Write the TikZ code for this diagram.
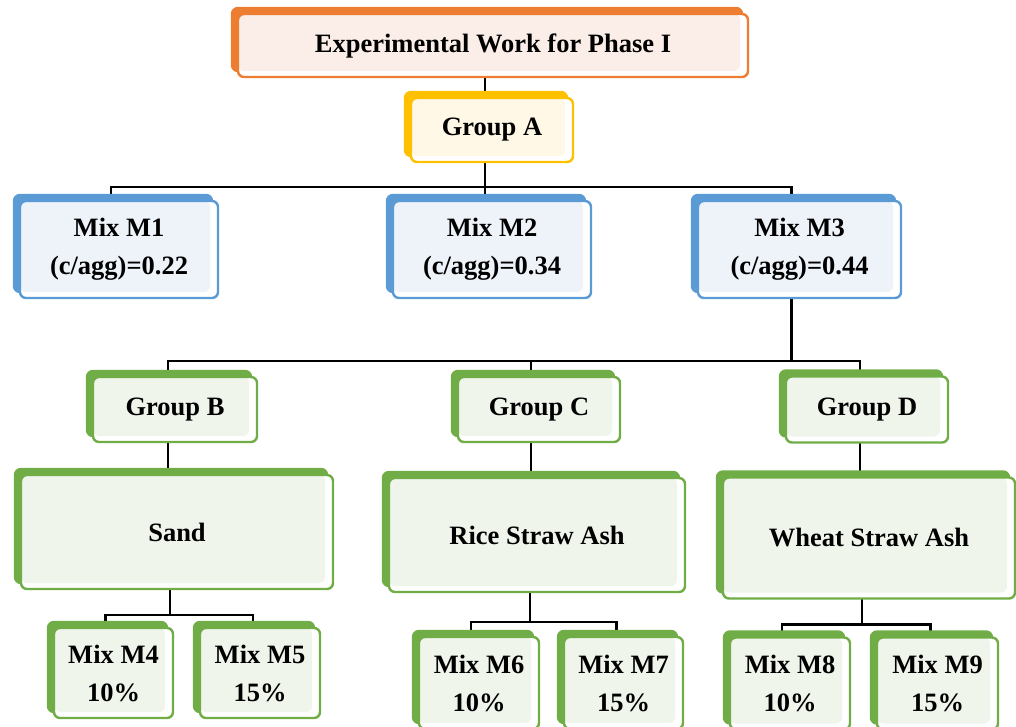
\documentclass[tikz,border=0pt]{standalone}
\usepackage{fontspec}
\setmainfont{Liberation Serif}
\usepackage{tikz}
\usetikzlibrary{positioning,shadows,backgrounds}
\definecolor{phaseorange}{HTML}{ED7D31}
\definecolor{phaseorangelight}{HTML}{FBEEE8}
\definecolor{groupyellow}{HTML}{FFC000}
\definecolor{groupyellowlight}{HTML}{FFF8E6}
\definecolor{mixblue}{HTML}{5B9BD5}
\definecolor{mixbluelight}{HTML}{EEF3FA}
\definecolor{ashgreen}{HTML}{70AD47}
\definecolor{ashgreenlight}{HTML}{F0F5EC}
\tikzset{tint/.style 2 args={draw=#1,
    copy shadow={shadow xshift=-6pt, shadow yshift=6pt, fill=#1, draw=#1},
    path picture={\fill[#2] (path picture bounding box.north west) rectangle ([xshift=-8pt, yshift=6pt]path picture bounding box.south east);}}}
\tikzstyle{card} = [rectangle, rounded corners=6pt, line width=2.4pt, fill=white, align=center,
    inner sep=2pt, outer sep=0pt, text=black, font=\bfseries\fontsize{26.5}{38}\selectfont]
\tikzstyle{phasebox} = [card, tint={phaseorange}{phaseorangelight}]
\tikzstyle{groupabox} = [card, tint={groupyellow}{groupyellowlight}]
\tikzstyle{mixbox} = [card, tint={mixblue}{mixbluelight}, minimum width=198pt, minimum height=97pt]
\tikzstyle{ashbox} = [card, tint={ashgreen}{ashgreenlight}]
\tikzstyle{link} = [draw=black, line width=2.2pt]

\begin{document}
\begin{tikzpicture}[x=1pt, y=-1pt]
\useasboundingbox (0,0) rectangle (1016,727);
\node[phasebox, minimum width=510pt, minimum height=63pt] (title) at (493,45.5) {Experimental Work for Phase I};
\node[groupabox, minimum width=162pt, minimum height=64pt, below=21pt of title, xshift=-1pt] (grpA) {Group A};

\node[mixbox, below=39pt of grpA] (m2) {Mix M2\\(c/agg)=0.34};
\node[mixbox, left=175pt of m2] (m1) {Mix M1\\(c/agg)=0.22};
\node[mixbox, right=107pt of m2, minimum width=203pt] (m3) {Mix M3\\(c/agg)=0.44};

\node[ashbox, minimum width=162pt, minimum height=65pt, below=79pt of m2, xshift=47pt] (grpC) {Group C};
\node[ashbox, minimum width=164pt, minimum height=65pt, left=201pt of grpC] (grpB) {Group B};
\node[ashbox, minimum width=162pt, minimum height=66pt, right=166pt of grpC] (grpD) {Group D};

\node[ashbox, minimum width=312pt, minimum height=114pt, below=33pt of grpB, xshift=2pt] (sand) {Sand};
\node[ashbox, minimum width=296pt, minimum height=114pt, below=36pt of grpC, xshift=-2pt] (rice) {Rice Straw Ash};
\node[ashbox, minimum width=292pt, minimum height=121pt, below=35pt of grpD, xshift=2pt] (wheat) {Wheat Straw Ash};

\node[ashbox, minimum width=119pt, minimum height=90pt, below=39pt of sand, xshift=-63.5pt] (m4) {Mix M4\\10\%};
\node[ashbox, minimum width=120pt, minimum height=90pt, right=27pt of m4] (m5) {Mix M5\\15\%};
\node[ashbox, minimum width=120pt, minimum height=92pt, below=45pt of rice, xshift=-58pt] (m6) {Mix M6\\10\%};
\node[ashbox, minimum width=119pt, minimum height=92pt, right=25pt of m6] (m7) {Mix M7\\15\%};
\node[ashbox, minimum width=120pt, minimum height=92pt, below=39pt of wheat, xshift=-79pt] (m8) {Mix M8\\10\%};
\node[ashbox, minimum width=121pt, minimum height=92pt, right=27pt of m8] (m9) {Mix M9\\15\%};

\begin{scope}[on background layer]
\draw[link] ([xshift=-8pt]title.south) -- ([xshift=-7pt]grpA.north);
\draw[link] ([xshift=-7pt]grpA.south) -- ([xshift=-7pt]m2.north);
\draw[link] ([xshift=-7pt]grpA.south) -- ++(0,25) -| ([xshift=-8pt]m1.north);
\draw[link] ([xshift=-7pt]grpA.south) -- ++(0,25) -| ([xshift=-8pt]m3.north);

\draw[link] ([xshift=-8pt]m3.south) -- ++(0,63) -| ([xshift=-7pt]grpB.north);
\draw[link] ([xshift=-8pt]m3.south) -- ++(0,63) -| ([xshift=-8pt]grpC.north);
\draw[link] ([xshift=-8pt]m3.south) -- ++(0,63) -| ([xshift=-7pt]grpD.north);

\draw[link] ([xshift=-7pt]grpB.south) -- ([xshift=-7pt]grpB.south |- sand.north);
\draw[link] ([xshift=-8pt]grpC.south) -- ([xshift=-8pt]grpC.south |- rice.north);
\draw[link] ([xshift=-7pt]grpD.south) -- ([xshift=-7pt]grpD.south |- wheat.north);

\draw[link] ([xshift=-7pt]sand.south) -- ++(0,26) -| ([xshift=-8pt]m4.north);
\draw[link] ([xshift=-7pt]sand.south) -- ++(0,26) -| ([xshift=-7pt]m5.north);
\draw[link] ([xshift=-7pt]rice.south) -- ++(0,30) -| ([xshift=-8pt]m6.north);
\draw[link] ([xshift=-7pt]rice.south) -- ++(0,30) -| ([xshift=-7pt]m7.north);
\draw[link] ([xshift=-7pt]wheat.south) -- ++(0,26) -| ([xshift=-8pt]m8.north);
\draw[link] ([xshift=-7pt]wheat.south) -- ++(0,26) -| ([xshift=-7pt]m9.north);
\end{scope}
\end{tikzpicture}
\end{document}
